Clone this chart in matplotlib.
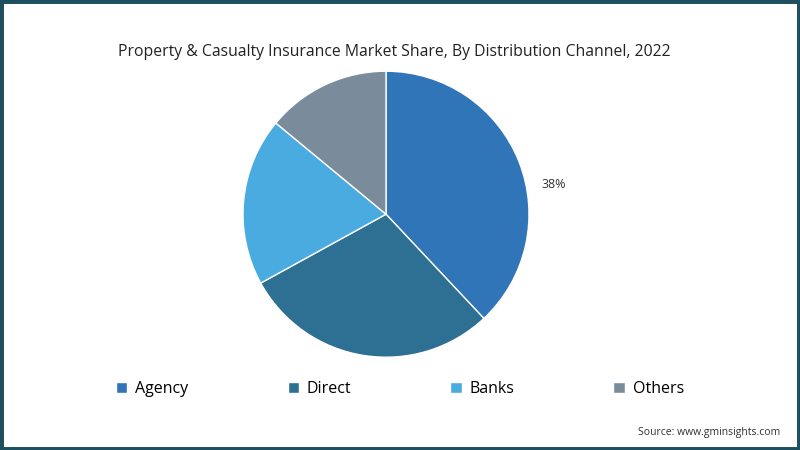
import matplotlib.pyplot as plt
from matplotlib.patches import Rectangle

channels = ["Agency", "Direct", "Banks", "Others"]
shares = [38, 29, 19, 14]
colors = ["#2f75b8", "#2e6f94", "#49abe0", "#7a8b9c"]

plt.rcParams["font.family"] = ["Open Sans", "DejaVu Sans"]

fig = plt.figure(figsize=(8, 4.5), dpi=100)
fig.patches.append(Rectangle((0, 0), 1, 1, transform=fig.transFigure,
                             fill=False, edgecolor="#1d4f5e", lw=5))

ax = fig.add_axes([0.4825 - 0.17875, 0.524 - 0.318, 0.3575, 0.636])
wedges, _ = ax.pie(shares, colors=colors, startangle=90, counterclock=False,
                   wedgeprops=dict(edgecolor="white", linewidth=1))
ax.set_xlim(-1, 1)
ax.set_ylim(-1, 1)
ax.set_aspect("equal")
ax.text(1.09, 0.21, f"{shares[0]}%", fontsize=9, color="#333333",
        ha="left", va="center")

fig.text(0.4925, 0.885, "Property & Casualty Insurance Market Share, By Distribution Channel, 2022",
         ha="center", va="center", fontsize=11.3, color="#222222")

fig.legend(wedges, channels, loc="center", bbox_to_anchor=(0.5, 0.135), ncol=4,
           frameon=False, fontsize=11.5, handlelength=0.7, handleheight=0.7,
           columnspacing=6.2, handletextpad=0.5)

fig.text(0.975, 0.04, "Source: www.gminsights.com", ha="right", va="center",
         fontsize=7.5, color="#333333")

fig.savefig("out.png", dpi=100)
